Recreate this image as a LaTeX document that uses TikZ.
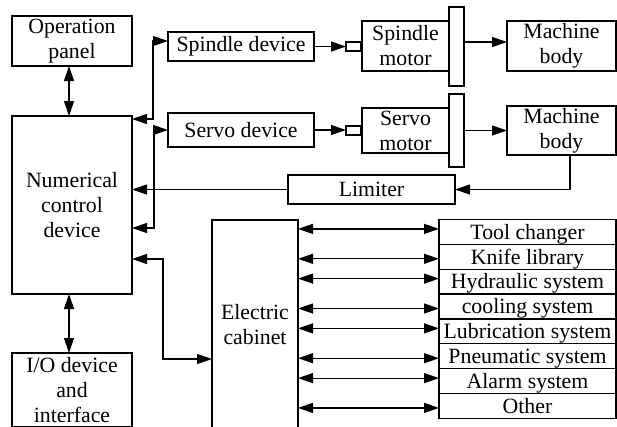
\documentclass[tikz,border=0pt]{standalone}
\usepackage{fontspec}
\setmainfont{Liberation Serif}
\usetikzlibrary{arrows.meta}

\begin{document}
\begin{tikzpicture}[x=1pt,y=-1pt,inner sep=0pt,outer sep=0pt,line width=1.2pt,
>={Triangle[length=15pt,width=10pt]},
box/.style={draw,rectangle,align=center,line width=1.2pt,font=\fontsize{21.8}{25}\selectfont},
rowbox/.style={draw,rectangle,line width=1.2pt,minimum width=177pt,minimum height=24.85pt,text height=19.6pt,text depth=5.2pt,font=\fontsize{21.8}{25}\selectfont}]

\useasboundingbox (0,0) rectangle (617,426);
\clip (0,0) rectangle (617,426);

\draw (72,41) node[box,minimum width=120pt,minimum height=50pt] (op) {Operation\\panel};
\draw (72,205) node[box,minimum width=120pt,minimum height=178pt] (nc) {Numerical\\control\\device};
\draw (72,390) node[box,minimum width=120pt,minimum height=74pt] (io) {I/O device\\and\\interface};

\draw (241,46.5) node[box,minimum width=146pt,minimum height=29pt] (spd) {Spindle device};
\draw (241,130) node[box,minimum width=146pt,minimum height=34pt] (svd) {Servo device};
\draw (353.5,46.5) node[box,minimum width=15pt,minimum height=9pt] (sq1) {};
\draw (353.5,130.5) node[box,minimum width=15pt,minimum height=9pt] (sq2) {};
\draw (405.5,46) node[box,minimum width=87pt,minimum height=50pt] (spm) {Spindle\\motor};
\draw (405.5,130.5) node[box,minimum width=87pt,minimum height=45pt] (svm) {Servo\\motor};
\draw (456.5,46.5) node[box,minimum width=15pt,minimum height=79pt] (bar1) {};
\draw (456.5,130.5) node[box,minimum width=15pt,minimum height=73pt] (bar2) {};
\draw (561.5,46) node[box,minimum width=109pt,minimum height=50pt] (mb1) {Machine\\body};
\draw (561.5,130.5) node[box,minimum width=109pt,minimum height=49pt] (mb2) {Machine\\body};
\draw (371.5,189.5) node[box,minimum width=167pt,minimum height=29pt] (lim) {Limiter};
\draw (255,325) node[box,minimum width=86pt,minimum height=210pt] (cab) {Electric\\cabinet};

\draw (527.5,231.9) node[rowbox] (tool) {Tool changer};
\draw (527.5,256.8) node[rowbox] (knife) {Knife library};
\draw (527.5,281.6) node[rowbox] (hyd) {Hydraulic system};
\draw (527.5,306.5) node[rowbox] (cool) {cooling system};
\draw (527.5,331.4) node[rowbox] (lub) {Lubrication system};
\draw (527.5,356.2) node[rowbox] (pneu) {Pneumatic system};
\draw (527.5,381.1) node[rowbox] (alarm) {Alarm system};
\draw (527.5,405.9) node[rowbox] (other) {Other};

\draw[<->] ([xshift=-3pt]op.south) -- ([xshift=-3pt]nc.north);
\draw[<->] ([xshift=-3pt]nc.south) -- ([xshift=-3pt]io.north);
\draw[<->] ([yshift=-3pt]nc.north east) -- ++(21,0) |- ([yshift=5.5pt]spd.west);
\draw[<->] ([yshift=-23pt]nc.east) -- ++(22,0) |- (svd.west);
\draw[<->] ([yshift=-54pt]nc.east) -- ++(31,0) |- ([yshift=-34pt]cab.west);
\draw[->] (lim.west) -- (lim.west -| nc.east);
\draw[->] ([xshift=8.5pt]mb2.south) |- (lim.east);

\draw[->] (spd.east) -- (sq1.west);
\draw[->] (svd.east) -- (svd.east -| sq2.west);
\draw[->] ([yshift=4.5pt]bar1.east) -- ([yshift=4.5pt]bar1.east -| mb1.west);
\draw[->] (bar2.east) -- (bar2.east -| mb2.west);

\draw[<->] ([yshift=3pt]tool.west -| cab.east) -- ([yshift=3pt]tool.west);
\draw[<->] ([yshift=-2pt]knife.west -| cab.east) -- ([yshift=-2pt]knife.west);
\draw[<->] ([yshift=3pt]hyd.west -| cab.east) -- ([yshift=3pt]hyd.west);
\draw[<->] ([yshift=-2pt]cool.west -| cab.east) -- ([yshift=-2pt]cool.west);
\draw[<->] ([yshift=3pt]lub.west -| cab.east) -- ([yshift=3pt]lub.west);
\draw[<->] ([yshift=-2pt]pneu.west -| cab.east) -- ([yshift=-2pt]pneu.west);
\draw[<->] ([yshift=3pt]alarm.west -| cab.east) -- ([yshift=3pt]alarm.west);
\draw[<->] ([yshift=-2pt]other.west -| cab.east) -- ([yshift=-2pt]other.west);
\end{tikzpicture}
\end{document}
